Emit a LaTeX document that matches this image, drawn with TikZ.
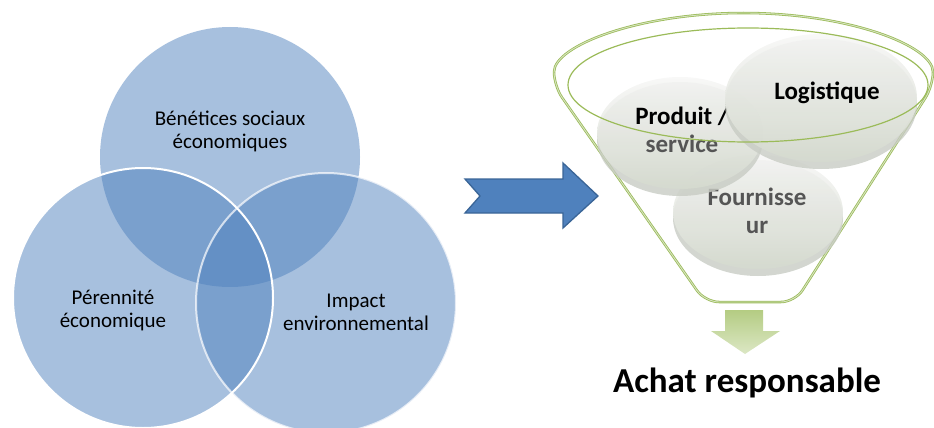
\documentclass[tikz,border=0pt]{standalone}
\usepackage{fontspec}
\setmainfont{Carlito}
\usetikzlibrary{shapes.geometric}
\definecolor{vennblue}{HTML}{4F81BD}
\definecolor{arrowblue}{HTML}{4F81BD}
\definecolor{arrowedge}{HTML}{3A6597}
\definecolor{fgreen}{HTML}{9BBB59}
\definecolor{fgreenlight}{HTML}{D6E3C0}
\definecolor{disctop}{HTML}{F7F7F6}
\definecolor{discbot}{HTML}{D5DACF}
\definecolor{discrim}{HTML}{C8CCC4}
\definecolor{graytext}{HTML}{555555}
\tikzset{
  venn/.style={circle, minimum size=260pt, inner sep=0pt, fill=vennblue, fill opacity=0.5, draw=none},
  vennline/.style={draw=white, line width=2pt},
  venntext/.style={align=center, font=\fontsize{21}{23}\selectfont, text=black},
  funnelline/.style={draw=fgreen, line width=0.8pt, double=fgreenlight, double distance=0.9pt},
  innerline/.style={draw=fgreen, line width=1.2pt},
  disc/.style={ellipse, inner sep=0pt, top color=disctop, bottom color=discbot, draw=none, fill opacity=0.9},
  rim/.style={fill=discrim, fill opacity=0.8},
  disctext/.style={align=center, font=\fontsize{25}{28}\selectfont\bfseries},
}
\begin{document}
\begin{tikzpicture}[x=1pt,y=-1pt]
\useasboundingbox (0,0) rectangle (934,428);
% Venn diagram
\node[venn] (ctop) at (230,157) {};
\node[venn] (cleft) at (143,298) {};
\node[venn] (cright) at (326,303) {};
\draw[vennline] (cleft.center) circle[radius=130pt];
\draw[vennline, draw opacity=0.7] (cright.center) circle[radius=130pt];
\node[venntext] (ttop) at (230,131) {Bénétices sociaux\\économiques};
\node[venntext] (tleft) at (113,310) {Pérennité\\économique};
\node[venntext] (tright) at (356,312) {Impact\\environnemental};
% blue arrow
\draw[fill=arrowblue, draw=arrowedge, line width=1.3pt, line join=miter]
  (465,179) -- (563,179) -- (563,163) -- (598,196) -- (563,228) -- (563,213) -- (465,213) -- (480,196) -- cycle;
% funnel outline
\draw[funnelline, rounded corners=14pt]
  (554,86) arc[start angle=180, end angle=0, x radius=189.5pt, y radius=73pt]
  -- (795,302) -- (705,302) -- cycle;
% discs
\fill[rim] (758,218) ellipse[x radius=85pt, y radius=58pt];
\node[disc, minimum width=170pt, minimum height=114pt] (fourn) at (758,212) {};
\node[disctext, text=graytext] (tfourn) at (757,211) {Fournisse\\ur};
\fill[rim] (680,139) ellipse[x radius=83pt, y radius=57pt];
\node[disc, minimum width=166pt, minimum height=112pt] (prod) at (680,133) {};
\node[disctext] (tprod) at (682,130) {Produit /\\{\color{graytext}service}};
\fill[rim] (821,104) ellipse[x radius=96pt, y radius=65pt];
\node[disc, minimum width=192pt, minimum height=128pt] (logi) at (821,98) {};
\node[disctext] (tlogi) at (827,93) {Logistique};
% inner ring of funnel
\draw[innerline] (748,85) ellipse[x radius=180pt, y radius=57pt];
% green down arrow
\shade[top color=fgreen!75, bottom color=fgreen!35]
  (725,310) -- (763,310) -- (763,331) -- (780,331) -- (745,354) -- (711,331) -- (725,331) -- cycle;
% result text
\node[font=\fontsize{35}{40}\selectfont\bfseries, text=black] (achat) at (747,383) {Achat responsable};
\end{tikzpicture}
\end{document}
